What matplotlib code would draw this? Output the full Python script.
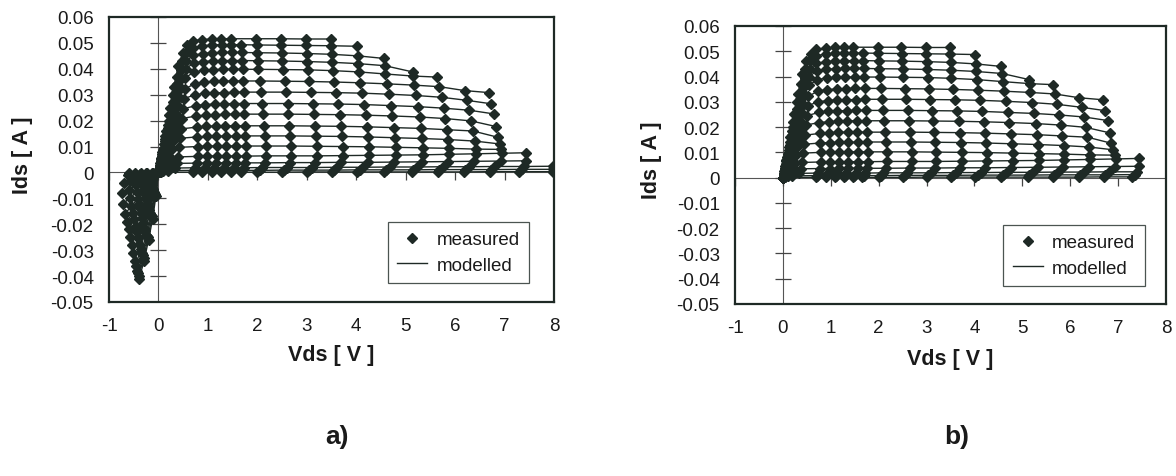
import matplotlib
matplotlib.use("Agg")
import matplotlib.pyplot as plt
from matplotlib.lines import Line2D

plt.rcParams['font.family'] = ['Liberation Sans', 'DejaVu Sans']

# ---------------- data ----------------
# positive Vds branch, one list per gate-voltage curve (top curve first)
vds_pos = [
    [0, 0.08, 0.15, 0.23, 0.31, 0.40, 0.49, 0.58, 0.70, 0.89, 1.08, 1.27, 1.47, 1.98, 2.47, 2.98, 3.48],
    [0, 0.07, 0.14, 0.22, 0.30, 0.38, 0.47, 0.57, 0.69, 0.89, 1.08, 1.28, 1.47, 1.67, 1.99, 2.48, 2.99, 3.49, 4.02],
    [0, 0.07, 0.14, 0.21, 0.29, 0.37, 0.46, 0.56, 0.70, 0.90, 1.09, 1.28, 1.48, 1.68, 2.00, 2.49, 3.00, 3.50, 4.03, 4.56],
    [0, 0.06, 0.13, 0.20, 0.28, 0.36, 0.45, 0.55, 0.71, 0.91, 1.10, 1.29, 1.49, 1.69, 2.01, 2.50, 3.01, 3.51, 4.04, 4.58, 5.14],
    [0, 0.06, 0.12, 0.19, 0.27, 0.35, 0.44, 0.54, 0.72, 0.92, 1.11, 1.30, 1.50, 1.70, 2.02, 2.51, 3.02, 3.52, 4.05, 4.59, 5.15, 5.64],
    [0, 0.05, 0.11, 0.18, 0.25, 0.33, 0.42, 0.53, 0.73, 0.93, 1.12, 1.31, 1.51, 1.71, 2.05, 2.55, 3.05, 3.56, 4.08, 4.62, 5.17, 5.68, 6.19, 6.69],
    [0, 0.05, 0.10, 0.16, 0.23, 0.31, 0.40, 0.52, 0.74, 0.94, 1.13, 1.32, 1.52, 1.72, 2.08, 2.58, 3.08, 3.60, 4.12, 4.66, 5.21, 5.73, 6.25, 6.73],
    [0, 0.04, 0.09, 0.15, 0.22, 0.29, 0.38, 0.50, 0.75, 0.95, 1.14, 1.33, 1.53, 1.73, 2.10, 2.61, 3.12, 3.64, 4.16, 4.70, 5.25, 5.77, 6.29, 6.78],
    [0, 0.04, 0.08, 0.13, 0.19, 0.26, 0.35, 0.48, 0.76, 0.96, 1.15, 1.34, 1.54, 1.74, 2.12, 2.63, 3.14, 3.67, 4.19, 4.73, 5.28, 5.80, 6.32, 6.83],
    [0, 0.03, 0.07, 0.12, 0.17, 0.24, 0.33, 0.46, 0.77, 0.97, 1.16, 1.35, 1.55, 1.75, 2.14, 2.65, 3.16, 3.69, 4.22, 4.76, 5.31, 5.83, 6.36, 6.86],
    [0, 0.03, 0.06, 0.10, 0.15, 0.21, 0.30, 0.44, 0.78, 0.98, 1.17, 1.36, 1.56, 1.76, 2.16, 2.67, 3.18, 3.71, 4.24, 4.78, 5.33, 5.86, 6.40, 6.90],
    [0, 0.02, 0.05, 0.09, 0.13, 0.19, 0.27, 0.42, 0.79, 0.99, 1.18, 1.37, 1.57, 1.77, 2.18, 2.69, 3.20, 3.73, 4.26, 4.80, 5.35, 5.88, 6.42, 6.93],
    [0, 0.02, 0.05, 0.08, 0.12, 0.17, 0.25, 0.40, 0.79, 0.99, 1.18, 1.37, 1.57, 1.77, 2.18, 2.69, 3.20, 3.73, 4.26, 4.80, 5.35, 5.88, 6.42, 6.95, 7.44],
    [0, 0.02, 0.04, 0.07, 0.11, 0.16, 0.24, 0.38, 0.78, 0.98, 1.17, 1.36, 1.56, 1.76, 2.16, 2.66, 3.17, 3.70, 4.23, 4.77, 5.32, 5.85, 6.39, 6.93, 7.44],
    [0, 0.03, 0.07, 0.12, 0.20, 0.34, 0.74, 0.94, 1.13, 1.32, 1.52, 1.72, 2.10, 2.60, 3.10, 3.62, 4.14, 4.68, 5.22, 5.75, 6.28, 6.80, 7.40, 7.98],
    [0, 0.04, 0.10, 0.20, 0.72, 0.91, 1.10, 1.29, 1.49, 1.69, 2.05, 2.54, 3.04, 3.55, 4.07, 4.60, 5.14, 5.67, 6.20, 6.72, 7.35, 7.98],
    [0, 0.05, 0.70, 0.89, 1.08, 1.27, 1.47, 1.66, 2.00, 2.50, 3.00, 3.50, 4.02, 4.56, 5.12, 5.65, 6.18, 6.70, 7.30, 7.98],
]
ids_pos = [
    [0, 0.008, 0.016, 0.025, 0.033, 0.041, 0.046, 0.049, 0.0508, 0.0513, 0.0515, 0.0516, 0.0516, 0.0516, 0.0516, 0.0515, 0.0515],
    [0, 0.007, 0.014, 0.022, 0.030, 0.037, 0.043, 0.0465, 0.0482, 0.0489, 0.0492, 0.0493, 0.0493, 0.0493, 0.0492, 0.0491, 0.0490, 0.0489, 0.0487],
    [0, 0.0065, 0.013, 0.020, 0.027, 0.034, 0.0395, 0.043, 0.0452, 0.0459, 0.0462, 0.0463, 0.0463, 0.0463, 0.0462, 0.0461, 0.0459, 0.0456, 0.0450, 0.0440],
    [0, 0.0055, 0.012, 0.0185, 0.025, 0.031, 0.036, 0.040, 0.0422, 0.0428, 0.0431, 0.0432, 0.0432, 0.0432, 0.0431, 0.0430, 0.0428, 0.0425, 0.0420, 0.0412, 0.0388],
    [0, 0.005, 0.011, 0.017, 0.023, 0.0285, 0.033, 0.0365, 0.0388, 0.0394, 0.0397, 0.0398, 0.0398, 0.0398, 0.0398, 0.0397, 0.0396, 0.0393, 0.0388, 0.0380, 0.0372, 0.0368],
    [0, 0.0045, 0.0095, 0.015, 0.020, 0.025, 0.029, 0.0322, 0.0342, 0.0348, 0.0351, 0.0352, 0.0353, 0.0353, 0.0353, 0.0352, 0.0351, 0.0349, 0.0346, 0.0342, 0.0337, 0.0331, 0.0316, 0.0308],
    [0, 0.004, 0.0085, 0.013, 0.0175, 0.022, 0.0255, 0.0285, 0.0300, 0.0305, 0.0307, 0.0308, 0.0309, 0.0310, 0.0310, 0.0310, 0.0309, 0.0308, 0.0306, 0.0302, 0.0297, 0.0290, 0.0278, 0.0265],
    [0, 0.0035, 0.0075, 0.0115, 0.0155, 0.019, 0.022, 0.0245, 0.0258, 0.0262, 0.0264, 0.0265, 0.0266, 0.0266, 0.0266, 0.0266, 0.0265, 0.0264, 0.0262, 0.0258, 0.0254, 0.0248, 0.0240, 0.0226],
    [0, 0.003, 0.0065, 0.010, 0.0135, 0.0165, 0.019, 0.0208, 0.0218, 0.0221, 0.0223, 0.0224, 0.0225, 0.0225, 0.0225, 0.0225, 0.0224, 0.0223, 0.0221, 0.0218, 0.0214, 0.0208, 0.0199, 0.0177],
    [0, 0.0025, 0.0055, 0.0085, 0.011, 0.0135, 0.0155, 0.0168, 0.0175, 0.0178, 0.0179, 0.0180, 0.0180, 0.0180, 0.0180, 0.0180, 0.0179, 0.0178, 0.0176, 0.0173, 0.0170, 0.0165, 0.0160, 0.0136],
    [0, 0.002, 0.0045, 0.0068, 0.009, 0.011, 0.0123, 0.0132, 0.0137, 0.0139, 0.0140, 0.0140, 0.0140, 0.0141, 0.0141, 0.0141, 0.0140, 0.0139, 0.0137, 0.0134, 0.0131, 0.0127, 0.0121, 0.0110],
    [0, 0.0015, 0.0033, 0.005, 0.0066, 0.008, 0.009, 0.0097, 0.0100, 0.0101, 0.0102, 0.0102, 0.0102, 0.0102, 0.0102, 0.0102, 0.0101, 0.0100, 0.0099, 0.0097, 0.0095, 0.0093, 0.0090, 0.0089],
    [0, 0.001, 0.002, 0.003, 0.004, 0.0049, 0.0056, 0.006, 0.0062, 0.0063, 0.0063, 0.0063, 0.0063, 0.0063, 0.0064, 0.0064, 0.0064, 0.0065, 0.0066, 0.0067, 0.0068, 0.0070, 0.0072, 0.0074, 0.0076],
    [0, 0.0006, 0.0012, 0.0018, 0.0024, 0.0029, 0.0033, 0.0035, 0.0036, 0.0036, 0.0037, 0.0037, 0.0037, 0.0037, 0.0037, 0.0038, 0.0038, 0.0039, 0.0039, 0.0040, 0.0041, 0.0042, 0.0043, 0.0044, 0.0045],
    [0, 0.0005, 0.0010, 0.0014, 0.0016, 0.0017, 0.0018, 0.0018, 0.0018, 0.0018, 0.0018, 0.0018, 0.0019, 0.0019, 0.0019, 0.0020, 0.0020, 0.0021, 0.0021, 0.0022, 0.0022, 0.0023, 0.0023, 0.0024],
    [0, 0.0003, 0.0005, 0.0007, 0.0008, 0.0008, 0.0008, 0.0008, 0.0008, 0.0008, 0.0008, 0.0009, 0.0009, 0.0009, 0.0010, 0.0010, 0.0010, 0.0011, 0.0011, 0.0011, 0.0012, 0.0012],
    [0, 0.0001, 0.0001, 0.0001, 0.0001, 0.0001, 0.0001, 0.0001, 0.0001, 0.0001, 0.0002, 0.0002, 0.0002, 0.0002, 0.0002, 0.0002, 0.0002, 0.0003, 0.0003, 0.0003],
]
# negative Vds branch (panel a only), same curve order
vds_neg_a = [
    [-0.05, -0.12, -0.20, -0.29, -0.39],
    [-0.06, -0.13, -0.21, -0.30, -0.40],
    [-0.07, -0.15, -0.23, -0.32, -0.42],
    [-0.08, -0.16, -0.25, -0.34, -0.44],
    [-0.09, -0.18, -0.27, -0.36, -0.46],
    [-0.10, -0.19, -0.29, -0.38, -0.48],
    [-0.11, -0.21, -0.31, -0.41, -0.51],
    [-0.12, -0.23, -0.33, -0.44, -0.54],
    [-0.13, -0.24, -0.35, -0.46, -0.57],
    [-0.14, -0.26, -0.37, -0.49, -0.60],
    [-0.15, -0.27, -0.40, -0.52, -0.64],
    [-0.16, -0.29, -0.42, -0.55, -0.68],
    [-0.17, -0.30, -0.44, -0.58, -0.71],
    [-0.17, -0.31, -0.45, -0.59, -0.73],
    [-0.16, -0.30, -0.43, -0.57, -0.70],
    [-0.14, -0.26, -0.38, -0.50, -0.62],
    [-0.12, -0.24, -0.36, -0.48, -0.60],
]
ids_neg_a = [
    [-0.009, -0.018, -0.026, -0.034, -0.041],
    [-0.009, -0.017, -0.025, -0.033, -0.040],
    [-0.0086, -0.0168, -0.0246, -0.032, -0.039],
    [-0.0084, -0.0163, -0.024, -0.031, -0.038],
    [-0.0079, -0.0155, -0.0227, -0.0295, -0.036],
    [-0.0075, -0.0146, -0.0214, -0.0279, -0.034],
    [-0.0068, -0.0133, -0.0195, -0.0254, -0.031],
    [-0.0062, -0.012, -0.0176, -0.023, -0.028],
    [-0.0055, -0.0108, -0.0158, -0.0205, -0.025],
    [-0.0048, -0.0095, -0.0139, -0.018, -0.022],
    [-0.0042, -0.0082, -0.012, -0.0156, -0.019],
    [-0.0035, -0.0069, -0.0101, -0.0131, -0.016],
    [-0.0026, -0.0052, -0.0076, -0.0098, -0.012],
    [-0.0018, -0.0034, -0.005, -0.0066, -0.008],
    [-0.0009, -0.0017, -0.0025, -0.0033, -0.004],
    [-0.0002, -0.0004, -0.0006, -0.0008, -0.001],
    [-0.0001, -0.0001, -0.0002, -0.0002, -0.0003],
]
vds_max_b = 7.5          # panel b shows the positive branch up to here

x_ticks = [-1, 0, 1, 2, 3, 4, 5, 6, 7, 8]
x_labels = ["-1", "0", "1", "2", "3", "4", "5", "6", "7", "8"]
y_ticks = [0.06, 0.05, 0.04, 0.03, 0.02, 0.01, 0, -0.01, -0.02, -0.03, -0.04, -0.05]
y_labels = ["0.06", "0.05", "0.04", "0.03", "0.02", "0.01", "0", "-0.01", "-0.02",
            "-0.03", "-0.04", "-0.05"]

INK = '#1e2925'
TXT = '#1a1a1a'

fig = plt.figure(figsize=(11.76, 4.77), dpi=100)
ax_a = fig.add_axes([0.0927, 0.3648, 0.3784, 0.5975])
ax_b = fig.add_axes([0.6250, 0.3606, 0.3665, 0.5828])


def style(ax, lab_x, lab_y):
    ax.set_xlim(-1, 8)
    ax.set_ylim(-0.05, 0.06)
    for s in ax.spines.values():
        s.set_linewidth(1.6)
        s.set_color(INK)
    ax.set_xticks(x_ticks)
    ax.set_xticklabels(x_labels)
    ax.set_yticks(y_ticks)
    ax.set_yticklabels(y_labels)
    ax.tick_params(length=0, labelsize=13.5, colors=TXT)
    ax.tick_params(axis='y', pad=11)
    ax.tick_params(axis='x', pad=11)
    # internal axes through the origin
    ax.axvline(0, color='#555555', lw=0.8, zorder=1)
    ax.axhline(0, color='#555555', lw=0.8, zorder=1)
    ax.plot([0] * len(y_ticks), y_ticks, ls='none', marker='_', ms=12,
            mew=0.9, color='#444444', zorder=1)
    ax.plot(x_ticks, [0] * len(x_ticks), ls='none', marker=3, ms=6,
            mew=0.9, color='#444444', zorder=1)
    ax.set_xlabel('Vds [ V ]', fontsize=15.5, fontweight='bold', color=TXT)
    ax.set_ylabel('Ids [ A ]', fontsize=15.5, fontweight='bold', color=TXT)
    ax.xaxis.set_label_coords(0.5, lab_x)
    ax.yaxis.set_label_coords(lab_y, 0.52)
    ax.xaxis.label.set_va('center')
    ax.yaxis.label.set_va('center')


style(ax_a, -0.185, -0.195)
style(ax_b, -0.195, -0.193)

# panel a: negative + positive branches
for vn, iN, vp, ip in zip(vds_neg_a, ids_neg_a, vds_pos, ids_pos):
    xs = list(reversed(vn)) + vp
    ys = list(reversed(iN)) + ip
    ax_a.plot(xs, ys, color=INK, lw=1.0, zorder=2)
    ax_a.plot(xs, ys, ls='none', marker='D', ms=5.0, color=INK, zorder=3)

# panel b: positive branch only
for vp, ip in zip(vds_pos, ids_pos):
    pts = [(v, i) for v, i in zip(vp, ip) if v <= vds_max_b]
    xs = [p[0] for p in pts]
    ys = [p[1] for p in pts]
    ax_b.plot(xs, ys, color=INK, lw=1.0, zorder=2)
    ax_b.plot(xs, ys, ls='none', marker='D', ms=5.0, color=INK, zorder=3)

handles = [Line2D([], [], ls='none', marker='D', ms=5, color=INK),
           Line2D([], [], color=INK, lw=1.0)]
for ax, box in ((ax_a, (0.618, 0.056, 0.335, 0.235)),
                (ax_b, (0.619, 0.058, 0.335, 0.233))):
    leg = ax.legend(handles, ['measured', 'modelled'], loc='center',
                    bbox_to_anchor=box, fontsize=13.5, frameon=True,
                    fancybox=False, edgecolor=INK, handlelength=1.6,
                    handletextpad=0.5, borderpad=0.5, labelspacing=0.45)
    leg.get_frame().set_linewidth(0.9)
    for t in leg.get_texts():
        t.set_color(TXT)

cap_font = ['Liberation Sans Narrow', 'Liberation Sans', 'DejaVu Sans']
fig.text(337 / 1176, 1 - 437 / 477, 'a)', fontsize=19, fontweight='bold',
         family=cap_font, ha='center', va='center', color=TXT)
fig.text(957 / 1176, 1 - 437 / 477, 'b)', fontsize=19, fontweight='bold',
         family=cap_font, ha='center', va='center', color=TXT)

fig.savefig('out.png', dpi=100, facecolor='white')
